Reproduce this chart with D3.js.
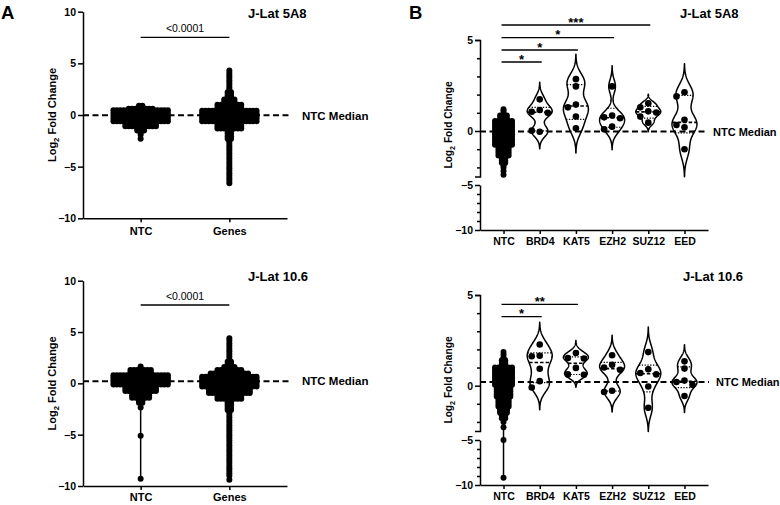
<!DOCTYPE html>
<html><head><meta charset="utf-8">
<script src="https://cdn.jsdelivr.net/npm/d3@7"></script>
<style>
body{margin:0;background:#fff}
svg{display:block}
text{font-family:"Liberation Sans",Arial,Helvetica,sans-serif;fill:#000}
</style>
</head><body>
<svg id="c" width="780" height="505"></svg>
<script>
// ---------------- DATA ----------------
const groupsA = ["NTC", "Genes"];
const groupsB = ["NTC", "BRD4", "KAT5", "EZH2", "SUZ12", "EED"];
const yTicksA = [10, 5, 0, -5, -10];
const yTicksB = [5, 0, -5, -10];
const minorTicksB = [4, 3, 2, 1, -1, -2, -6, -7, -8, -9];
const ntcMedian5A8 = -0.03;
const ntcMedian106 = 0.2;

// Swarm profiles: [low value, high value, dots per row]
const swarmA_5A8_NTC = [[0.6,0.9,2],[0.45,0.6,8],[-0.6,0.45,17],[-1.1,-0.6,10],[-1.5,-1.1,3],[-1.9,-1.5,1]];
const outA_5A8_NTC = [-2.3];
const swarmA_5A8_Genes = [[2.2,4.3,1],[1.5,2.2,2],[1.0,1.5,4],[0.4,1.0,8],[-0.6,0.4,17],[-1.3,-0.6,8],[-2.3,-1.3,2],[-6.6,-2.3,1]];
const outA_5A8_Genes = [];
const swarmA_106_NTC = [[1.3,1.65,1],[0.8,1.3,7],[-0.1,0.8,17],[-0.75,-0.1,10],[-1.4,-0.75,6],[-1.9,-1.4,2]];
const outA_106_NTC = [-2.35, -5.1, -9.3];
const swarmA_106_Genes = [[2.1,4.4,1],[1.6,2.1,2],[1.3,1.6,4],[0.97,1.3,8],[0.65,0.97,12],[-0.3,0.65,17],[-0.95,-0.3,13],[-1.5,-0.95,8],[-2.6,-1.5,2],[-9.0,-2.6,1]];
const outA_106_Genes = [-9.4];

const swarmB_5A8_NTC = [[0.85,1.2,1],[0.55,0.85,3],[-0.75,0.55,6],[-1.35,-0.75,4],[-1.75,-1.35,2],[-2.0,-1.75,1]];
const outB_5A8_NTC = [-2.2, -2.4];
const swarmB_106_NTC = [[1.4,1.85,1],[1.0,1.4,2],[0.05,1.0,6],[-0.6,0.05,5],[-1.15,-0.6,4],[-1.5,-1.15,3],[-1.8,-1.5,2]];
const outB_106_NTC = [-2.0, -2.3, -5.0, -9.2];

// Violin groups (individual values)
const v5A8_BRD4  = [1.74, 1.15, 1.06, 1.00, -0.04, 0.02];
const v5A8_KAT5  = [2.85, 2.45, 1.45, 1.30, 0.80, 0.15];
const v5A8_EZH2  = [2.45, 0.85, 0.75, 0.70, 0.24, 0.10];
const v5A8_SUZ12 = [1.52, 1.30, 1.08, 1.02, 0.79, 0.46];
const v5A8_EED   = [2.13, 1.90, 0.62, 0.33, 0.20, -1.00];
const v106_BRD4  = [2.27, 1.65, 1.62, 0.93, 0.25, -0.10];
const v106_KAT5  = [1.80, 1.52, 1.50, 0.98, 0.62, 0.60];
const v106_EZH2  = [1.68, 1.15, 1.00, 0.88, -0.28, -0.35];
const v106_SUZ12 = [1.85, 0.90, 0.70, 0.62, -0.05, -1.22];
const v106_EED   = [1.34, 0.94, 0.28, 0.20, 0.05, -0.57];

// Significance annotations
const sigA = "<0.0001";
const sigB5A8 = [["BRD4","*"],["KAT5","*"],["EZH2","*"],["SUZ12","***"]];
const sigB106 = [["BRD4","*"],["KAT5","**"]];

// ---------------- DRAW ----------------
const svg = d3.select("#c");
const fmt = d3.format("d");

function styleAxis(g, fs) {
  g.selectAll("path,line").attr("stroke", "#000").attr("stroke-width", 1.5);
  g.selectAll("text").attr("font-size", fs).attr("font-weight", "bold")
    .attr("font-family", '"Liberation Sans",Arial,sans-serif');
}

function yLabel(x, y, fs) {
  const t = svg.append("text").attr("transform", `translate(${x},${y}) rotate(-90)`)
    .attr("text-anchor", "middle").attr("font-size", fs).attr("font-weight", "bold");
  t.append("tspan").text("Log");
  t.append("tspan").text("2").attr("font-size", fs * 0.7).attr("dy", fs * 0.3);
  t.append("tspan").text(" Fold Change").attr("dy", -fs * 0.3);
}

function drawSwarm(g, cx, y, bins, outliers, r, sx, rowStep) {
  const pts = [];
  bins.forEach(([lo, hi, n]) => {
    const span = y(lo) - y(hi);
    const rows = Math.max(1, Math.round(span / rowStep) + 1);
    for (let k = 0; k < rows; k++) {
      const v = rows === 1 ? (lo + hi) / 2 : hi - (hi - lo) * k / (rows - 1);
      for (let i = 0; i < n; i++) pts.push([cx + (i - (n - 1) / 2) * sx, y(v)]);
    }
  });
  outliers.forEach(v => pts.push([cx, y(v)]));
  const allV = bins.flatMap(b => [b[0], b[1]]).concat(outliers);
  g.append("line").attr("x1", cx).attr("x2", cx)
    .attr("y1", y(d3.min(allV))).attr("y2", y(d3.max(allV)))
    .attr("stroke", "#000").attr("stroke-width", 1.5);
  g.selectAll(null).data(pts).join("circle")
    .attr("cx", d => d[0]).attr("cy", d => d[1]).attr("r", r).attr("fill", "#000");
}

function quantileGP(s, p) {
  const n = s.length, pos = (n + 1) * p;
  if (pos <= 1) return s[0];
  if (pos >= n) return s[n - 1];
  const lo = Math.floor(pos);
  return s[lo - 1] + (pos - lo) * (s[lo] - s[lo - 1]);
}

function drawViolin(g, cx, y, vals, maxHalf) {
  const s = vals.slice().sort(d3.ascending);
  const h = 0.45 * d3.deviation(s);
  const lo = s[0] - 3 * h, hi = s[s.length - 1] + 3 * h;
  const N = 160;
  const dens = v => d3.sum(s, xi => Math.exp(-0.5 * ((v - xi) / h) ** 2));
  const grid = d3.range(N + 1).map(i => lo + (hi - lo) * i / N);
  const dv = grid.map(dens);
  const w = d3.scaleLinear().domain([0, d3.max(dv)]).range([0, maxHalf]);
  const pts = grid.map((v, i) => ({ v, w: w(dv[i]) }));
  const area = d3.area().y(d => y(d.v)).x0(d => cx - d.w).x1(d => cx + d.w);
  g.append("path").attr("d", area(pts)).attr("fill", "#fff")
    .attr("stroke", "#000").attr("stroke-width", 1.5).attr("stroke-linejoin", "round");
  [[0.25, false], [0.5, true], [0.75, false]].forEach(([p, med]) => {
    const v = quantileGP(s, p), hw = w(dens(v));
    g.append("line").attr("x1", cx - hw).attr("x2", cx + hw).attr("y1", y(v)).attr("y2", y(v))
      .attr("stroke", "#000").attr("stroke-width", med ? 1.6 : 1.2)
      .attr("stroke-dasharray", med ? "3.5,2" : "1.3,1.5");
  });
  return s;
}

function drawViolinDots(g, cx, y, vals, r) {
  const placed = [];
  vals.forEach(v => {
    const py = y(v);
    for (const c of [0, -1, 1, -2, 2, -3, 3]) {
      const px = c * 8;
      if (placed.every(p => Math.hypot(p[0] - px, p[1] - py) >= 2 * r * 1.05)) { placed.push([px, py]); break; }
    }
  });
  g.selectAll(null).data(placed).join("circle")
    .attr("cx", d => cx + d[0]).attr("cy", d => d[1]).attr("r", r).attr("fill", "#000");
}

function medianLine(x0, x1, y, v, label, lx, fs) {
  svg.append("line").attr("x1", x0).attr("x2", x1).attr("y1", y(v)).attr("y2", y(v))
    .attr("stroke", "#000").attr("stroke-width", 2).attr("stroke-dasharray", "6,3.5");
  svg.append("text").attr("x", lx).attr("y", y(v) + 4.2).attr("font-size", fs)
    .attr("font-weight", "bold").text(label);
}

// ---- Panel A ----
function panelA(cfg) {
  const y = d3.scaleLinear().domain([-10, 10]).range(cfg.yr);
  const x = d3.scalePoint().domain(groupsA).range([83, 287]).padding(0.65);
  const g = svg.append("g");
  drawSwarm(g, x("NTC"), y, cfg.ntc, cfg.ntcOut, 3, 3.4, 2.5);
  drawSwarm(g, x("Genes"), y, cfg.genes, cfg.genesOut, 3, 3.4, 2.5);
  medianLine(83, 291, y, cfg.median, "NTC Median", 302, 11.5);
  const ya = svg.append("g").attr("transform", "translate(83,0)")
    .call(d3.axisLeft(y).tickValues(yTicksA).tickFormat(fmt).tickSize(5).tickPadding(2).tickSizeOuter(0));
  styleAxis(ya, 10.5);
  const xa = svg.append("g").attr("transform", `translate(0,${cfg.yr[0]})`)
    .call(d3.axisBottom(x).tickSize(4).tickPadding(cfg.xpad).tickSizeOuter(0));
  styleAxis(xa, 11);
  svg.append("line").attr("x1", x("NTC")).attr("x2", x("Genes")).attr("y1", cfg.bracketY).attr("y2", cfg.bracketY)
    .attr("stroke", "#000").attr("stroke-width", 1.3);
  svg.append("text").attr("x", (x("NTC") + x("Genes")) / 2).attr("y", cfg.bracketY - 5)
    .attr("text-anchor", "middle").attr("font-size", 10.5).text(sigA);
  svg.append("text").attr("x", 248).attr("y", cfg.titleY).attr("font-size", 13)
    .attr("font-weight", "bold").text(cfg.title);
  yLabel(56, (cfg.yr[0] + cfg.yr[1]) / 2, 11);
}

// ---- Panel B ----
function panelB(cfg) {
  const y = d3.scaleLinear().domain([-10, -5, -2.5, 5]).range(cfg.yr);
  const x = d3.scalePoint().domain(groupsB).range([480, 708]).padding(0.65);
  const g = svg.append("g");
  drawSwarm(g, x("NTC"), y, cfg.ntc, cfg.ntcOut, 3, 3.4, 2.5);
  cfg.violins.forEach(([name, vals]) => drawViolin(g, x(name), y, vals, 12.5));
  medianLine(480, cfg.medEnd, y, cfg.median, "NTC Median", cfg.medLabelX, 11);
  const gd = svg.append("g");
  cfg.violins.forEach(([name, vals]) => drawViolinDots(gd, x(name), y, vals, 3.3));

  const yUp = d3.scaleLinear().domain([-2.5, 5]).range([cfg.yr[2], cfg.yr[3]]);
  const yLo = d3.scaleLinear().domain([-10, -5]).range([cfg.yr[0], cfg.yr[1]]);
  const a1 = svg.append("g").attr("transform", "translate(480,0)")
    .call(d3.axisLeft(yUp).tickValues(yTicksB.filter(v => v >= -2.5)).tickFormat(fmt).tickSize(5).tickPadding(2).tickSizeOuter(5));
  const a2 = svg.append("g").attr("transform", "translate(480,0)")
    .call(d3.axisLeft(yLo).tickValues(yTicksB.filter(v => v <= -5)).tickFormat(fmt).tickSize(5).tickPadding(2).tickSizeOuter(0));
  const a3 = svg.append("g").attr("transform", "translate(480,0)")
    .call(d3.axisLeft(y).tickValues(minorTicksB).tickSize(3).tickFormat(""));
  a3.select(".domain").remove();
  [a1, a2, a3].forEach(a => styleAxis(a, 10.5));
  const xa = svg.append("g").attr("transform", `translate(0,${cfg.yr[0]})`)
    .call(d3.axisBottom(x).tickSize(4).tickPadding(cfg.xpad).tickSizeOuter(0));
  styleAxis(xa, 10.5);

  cfg.sig.forEach(([name, star], i) => {
    const ly = cfg.sigY[i];
    const x0 = x("NTC") - 2, x1 = x(name) + 2;
    svg.append("line").attr("x1", x0).attr("x2", x1).attr("y1", ly).attr("y2", ly)
      .attr("stroke", "#000").attr("stroke-width", 1.3);
    svg.append("text").attr("x", (x0 + x1) / 2).attr("y", ly + 1.5).attr("text-anchor", "middle")
      .attr("font-size", 13).attr("font-weight", "bold").text(star);
  });
  svg.append("text").attr("x", cfg.titleX).attr("y", cfg.titleY).attr("font-size", 13)
    .attr("font-weight", "bold").text(cfg.title);
  yLabel(452, cfg.labelY, 10.2);
}

panelA({ yr: [218.3, 11.7], ntc: swarmA_5A8_NTC, ntcOut: outA_5A8_NTC, genes: swarmA_5A8_Genes,
  genesOut: outA_5A8_Genes, median: ntcMedian5A8, bracketY: 37.3, title: "J-Lat 5A8", titleY: 18.3, xpad: 5 });
panelA({ yr: [486, 280.7], ntc: swarmA_106_NTC, ntcOut: outA_106_NTC, genes: swarmA_106_Genes,
  genesOut: outA_106_Genes, median: ntcMedian106, bracketY: 305, title: "J-Lat 10.6", titleY: 281, xpad: 3 });

panelB({ yr: [230, 185, 176.5, 40], ntc: swarmB_5A8_NTC, ntcOut: outB_5A8_NTC,
  violins: [["BRD4", v5A8_BRD4], ["KAT5", v5A8_KAT5], ["EZH2", v5A8_EZH2], ["SUZ12", v5A8_SUZ12], ["EED", v5A8_EED]],
  median: ntcMedian5A8, medEnd: 705, medLabelX: 713, sig: sigB5A8, sigY: [62, 50, 37.7, 25],
  title: "J-Lat 5A8", titleX: 680, titleY: 18.3, labelY: 125, xpad: 4 });
panelB({ yr: [485, 440, 431, 295], ntc: swarmB_106_NTC, ntcOut: outB_106_NTC,
  violins: [["BRD4", v106_BRD4], ["KAT5", v106_KAT5], ["EZH2", v106_EZH2], ["SUZ12", v106_SUZ12], ["EED", v106_EED]],
  median: ntcMedian106, medEnd: 709, medLabelX: 716, sig: sigB106, sigY: [316.7, 304.3],
  title: "J-Lat 10.6", titleX: 683, titleY: 281, labelY: 380, xpad: 4 });

// Panel letters
svg.append("text").attr("x", 1).attr("y", 18.5).attr("font-size", 18.5).attr("font-weight", "bold").text("A");
svg.append("text").attr("x", 409).attr("y", 18.5).attr("font-size", 18.5).attr("font-weight", "bold").text("B");
</script>
</body></html>
